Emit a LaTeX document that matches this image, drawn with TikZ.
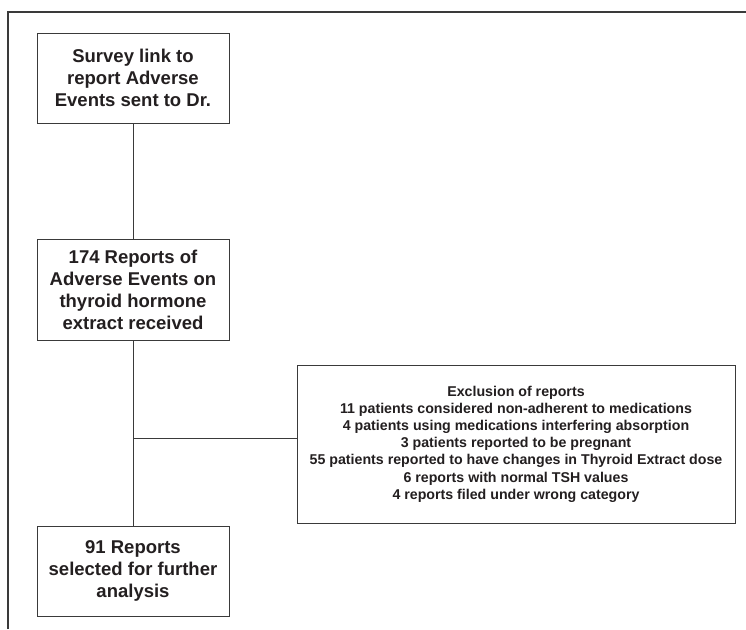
\documentclass[tikz,border=0pt]{standalone}
\usepackage{fontspec}
\setmainfont{Liberation Sans}
\usepackage{xcolor}
\usepackage{tikz}
\usetikzlibrary{positioning}

\definecolor{inkgray}{HTML}{231F20}
\definecolor{linegray}{HTML}{3A3A3A}

\tikzset{
	stagebox/.style={draw=linegray, line width=1pt, fill=white, text=inkgray, align=center,
		minimum width=192pt, inner sep=0pt,
		font=\fontsize{18.5}{22}\selectfont\bfseries},
	exclbox/.style={draw=linegray, line width=1pt, fill=white, text=inkgray, align=center,
		minimum width=438pt, minimum height=158pt, inner sep=0pt,
		font=\fontsize{14.2}{17.2}\selectfont\bfseries},
	link/.style={draw=linegray, line width=1pt}
}

\begin{document}
\begin{tikzpicture}[x=1pt, y=-1pt]
	\useasboundingbox (0,0) rectangle (746,629);
	\draw[linegray, line width=1.3pt] (8,629) -- (8,12) -- (746,12);

	\node[stagebox, minimum height=90pt] (survey) at (133,78) {Survey link to\\report Adverse\\Events sent to Dr.};
	\node[stagebox, minimum height=101pt] (received) at (133,289.5) {174 Reports of\\Adverse Events on\\thyroid hormone\\extract received};
	\node[stagebox, minimum height=90pt] (selected) at (133,571) {91 Reports\\selected for further\\analysis};
	\node[exclbox] (exclusion) at (516,444) {Exclusion of reports\\
		11 patients considered non-adherent to medications\\
		4 patients using medications interfering absorption\\
		3 patients reported to be pregnant\\
		55 patients reported to have changes in Thyroid Extract dose\\
		6 reports with normal TSH values\\
		4 reports filed under wrong category};
	\coordinate (branch) at (133,438);

	\draw[link] (survey) -- (received);
	\draw[link] (received) -- (selected);
	\draw[link] (branch) -- (branch -| exclusion.west);
\end{tikzpicture}
\end{document}
